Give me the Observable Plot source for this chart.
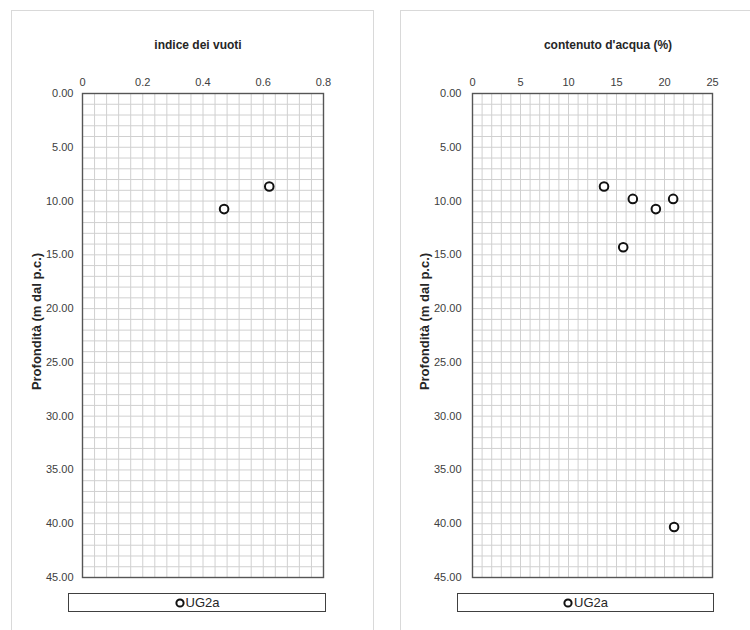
<!DOCTYPE html>
<html><head><meta charset="utf-8">
<script src="https://cdn.jsdelivr.net/npm/d3@7"></script>
<script src="https://cdn.jsdelivr.net/npm/@observablehq/plot@0.6"></script>
<style>
body{margin:0;background:#fff;font-family:"Liberation Sans",Arial,sans-serif;}
#page{position:relative;width:750px;height:630px;overflow:hidden;background:#fff}
.panel{position:absolute;border:1px solid #d9d9d9;border-bottom:none;box-sizing:border-box}
.title{position:absolute;font-weight:bold;font-size:12px;color:#262626;transform:translate(-50%,-50%);white-space:nowrap}
.chart{position:absolute}
.legend{position:absolute;border:1px solid #404040;height:19px;display:flex;align-items:center;justify-content:center;font-size:13px;color:#262626;box-sizing:border-box;background:#fff}
.legend svg{margin-right:1px}
</style></head><body><div id="page"></div>
<script>
// ---- data ----
const seriesName = "UG2a";
const yLabel = "Profondità (m dal p.c.)";
const depthTicks = [0, 5, 10, 15, 20, 25, 30, 35, 40, 45];
const depthGrid = d3.range(0, 46, 1);

const voidTitle = "indice dei vuoti";
const voidTicks = [0, 0.2, 0.4, 0.6, 0.8];
const voidGrid = d3.range(0, 21).map(i => +(i * 0.04).toFixed(2));
const voidIndex = [0.62, 0.47];
const voidDepth = [8.65, 10.75];

const waterTitle = "contenuto d'acqua (%)";
const waterTicks = [0, 5, 10, 15, 20, 25];
const waterGrid = d3.range(0, 26, 1);
const waterContent = [13.7, 16.7, 19.1, 20.9, 15.7, 21.0];
const waterDepth = [8.65, 9.8, 10.75, 9.8, 14.3, 40.3];

const page = document.getElementById("page");

function addPanel(cfg) {
  const p = document.createElement("div");
  p.className = "panel";
  Object.assign(p.style, cfg.box);
  page.appendChild(p);

  const t = document.createElement("div");
  t.className = "title";
  t.textContent = cfg.title;
  t.style.left = cfg.titleX + "px";
  t.style.top = "45px";
  page.appendChild(t);

  const data = cfg.xs.map((x, i) => ({x, y: cfg.ys[i]}));
  const chart = Plot.plot({
    width: cfg.width, height: 530,
    marginTop: 33, marginBottom: 13, marginLeft: cfg.marginLeft, marginRight: cfg.marginRight,
    style: {fontFamily: "Liberation Sans, Arial, sans-serif", fontSize: "11px", color: "#404040", background: "transparent", overflow: "visible"},
    x: {domain: cfg.domain},
    y: {domain: [0, 45], reverse: true},
    marks: [
      Plot.ruleX(cfg.grid, {stroke: "#d0d0d0", strokeWidth: 1}),
      Plot.ruleY(depthGrid, {stroke: "#d0d0d0", strokeWidth: 1}),
      Plot.frame({stroke: "#555555", strokeWidth: 1.4}),
      Plot.axisX({anchor: "top", ticks: cfg.ticks, tickSize: 0, tickPadding: 8, tickFormat: cfg.fmt, label: null, fontSize: 11, fill: "#404040"}),
      Plot.axisY({anchor: "left", ticks: depthTicks, tickSize: 0, tickPadding: cfg.yPad, tickFormat: d => d.toFixed(2), label: null, fontSize: 11, fill: "#404040"}),
      Plot.text([yLabel], {frameAnchor: "left", textAnchor: "middle", dx: cfg.labelDx, dy: -14, rotate: -90, fontWeight: "bold", fontSize: 13, fill: "#262626"}),
      Plot.dot(data, {x: "x", y: "y", r: 4.3, stroke: "#111", strokeWidth: 2, fill: "white"})
    ]
  });
  chart.classList.add("chart");
  chart.style.left = cfg.left + "px";
  chart.style.top = "60px";
  page.appendChild(chart);

  const lg = document.createElement("div");
  lg.className = "legend";
  Object.assign(lg.style, cfg.legend);
  lg.innerHTML = '<svg width="10" height="10"><circle cx="5" cy="5" r="3.6" fill="white" stroke="#111" stroke-width="2"/></svg>';
  const s = document.createElement("span");
  s.textContent = seriesName;
  lg.appendChild(s);
  page.appendChild(lg);
}

addPanel({
  box: {left: "11px", top: "10px", width: "363px", height: "640px"},
  title: voidTitle, titleX: 198,
  left: 11, width: 362, marginLeft: 71, marginRight: 50,
  domain: [0, 0.8], ticks: voidTicks, grid: voidGrid, fmt: d => String(+d.toFixed(1)),
  xs: voidIndex, ys: voidDepth, yPad: 9, labelDx: -46,
  legend: {left: "68px", top: "593px", width: "258px"}
});

addPanel({
  box: {left: "400px", top: "10px", width: "420px", height: "640px"},
  title: waterTitle, titleX: 608,
  left: 400, width: 350, marginLeft: 72, marginRight: 38,
  domain: [0, 25], ticks: waterTicks, grid: waterGrid, fmt: d => String(d),
  xs: waterContent, ys: waterDepth, yPad: 11, labelDx: -48,
  legend: {left: "457px", top: "593px", width: "257px"}
});
</script>
</body></html>
